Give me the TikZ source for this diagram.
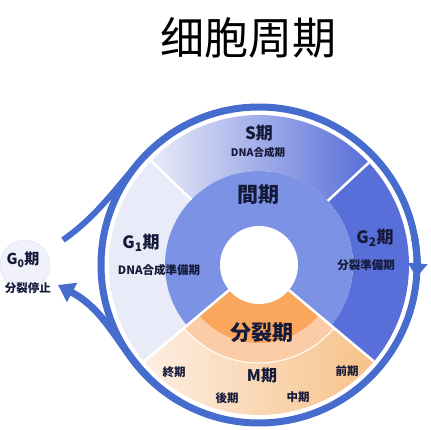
\documentclass[tikz,border=0pt]{standalone}
\usepackage{fontspec}
\usepackage{xcolor}
\newfontfamily\cjk{Noto Sans CJK JP}
\newfontfamily\cjksc{Noto Sans CJK SC}
\usetikzlibrary{arrows.meta}
\definecolor{ringblue}{RGB}{70,108,206}
\definecolor{midblue}{RGB}{124,146,228}
\definecolor{deepblue}{RGB}{88,110,216}
\definecolor{paleblue}{RGB}{233,236,248}
\definecolor{darkorange}{RGB}{250,166,92}
\definecolor{salmon}{RGB}{252,204,166}
\definecolor{paleorange}{RGB}{253,238,226}
\definecolor{midorange}{RGB}{246,194,136}
\definecolor{inktext}{RGB}{22,26,58}
\definecolor{g0fill}{RGB}{240,241,250}
\definecolor{g0line}{RGB}{222,224,240}

\begin{document}
\begin{tikzpicture}[x=1pt, y=1pt,
  ring/.style={draw=ringblue, line width=7pt},
  sep/.style={draw=white, line width=2.5pt},
  lbl/.style={text=inktext, inner sep=0pt, font=\cjk\bfseries\fontsize{#1}{#1}\selectfont}]
\useasboundingbox (0,0) rectangle (431,429);
\node[font=\cjksc\fontsize{44}{50}\selectfont, inner sep=0pt] (title) at (248,391) {细胞周期};
\begin{scope}[shift={(259,164)}]
\fill[paleblue] (136:150) arc[start angle=136, end angle=220, radius=150] -- (220:94) arc[start angle=220, end angle=136, radius=94] -- cycle;
\shade[left color=paleblue, middle color=paleblue!55!deepblue, right color=deepblue] (43:150) arc[start angle=43, end angle=136, radius=150] -- (136:94) arc[start angle=136, end angle=43, radius=94] -- cycle;
\fill[deepblue] (-40:150) arc[start angle=-40, end angle=43, radius=150] -- (43:94) arc[start angle=43, end angle=-40, radius=94] -- cycle;
\fill[midblue] (0,0) circle[radius=94];
\shade[left color=paleorange, right color=midorange] (-140:150) arc[start angle=-140, end angle=-40, radius=150] -- (0,0) -- cycle;
\fill[salmon] (-140:98) arc[start angle=-140, end angle=-40, radius=98] -- (0,0) -- cycle;
\fill[darkorange] (-140:78) arc[start angle=-140, end angle=-40, radius=78] -- (0,0) -- cycle;
\draw[white, line width=1pt] (-140:98) arc[start angle=-140, end angle=-40, radius=98];
\fill[white] (0,0) circle[radius=39];
\foreach \a/\r in {136/94, 43/94, -40/39, -140/39}
  \draw[sep] (\a:\r) -- (\a:150);
\draw[ring] (0,0) circle[radius=158];
\coordinate (b1) at (110:158);
\coordinate (b2) at (240:158);
\draw[ring, -{Triangle[length=14pt, width=19pt]}] (10:158) arc[start angle=10, end angle=-4.5, radius=158];
\end{scope}
\node[circle, fill=g0fill, draw=g0line, minimum size=50pt, inner sep=0pt] (g0) at (25,164) {};
\coordinate (g0in) at (63,189);
\coordinate (g0out) at (58,144);
\draw[ring, line width=6pt] (b1) to[out=200, in=35] (g0in);
\draw[ring, -{Triangle[length=16pt, width=21pt]}] (b2) to[out=150, in=-28] (g0out);
\node[lbl=15] (g0t) at (23,169) {G\textsubscript{0}期};
\node[lbl=11.5] (g0s) at (28,141) {分裂停止};
\node[lbl=17] (s) at (259,296) {S期};
\node[lbl=10.5] (sdna) at (258,276) {DNA合成期};
\node[lbl=21] (jian) at (258,234) {間期};
\node[lbl=17] (g1) at (141,186) {G\textsubscript{1}期};
\node[lbl=11.5] (g1s) at (159,159) {DNA合成準備期};
\node[lbl=17] (g2) at (375,191) {G\textsubscript{2}期};
\node[lbl=11.5] (g2s) at (366,164) {分裂準備期};
\node[lbl=21] (fen) at (262,96) {分裂期};
\node[lbl=16] (m) at (262,53) {M期};
\node[lbl=11.5] (p4) at (174,57) {終期};
\node[lbl=11.5] (p3) at (227,31) {後期};
\node[lbl=11.5] (p2) at (298,32) {中期};
\node[lbl=11.5] (p1) at (347,58) {前期};
\end{tikzpicture}
\end{document}
